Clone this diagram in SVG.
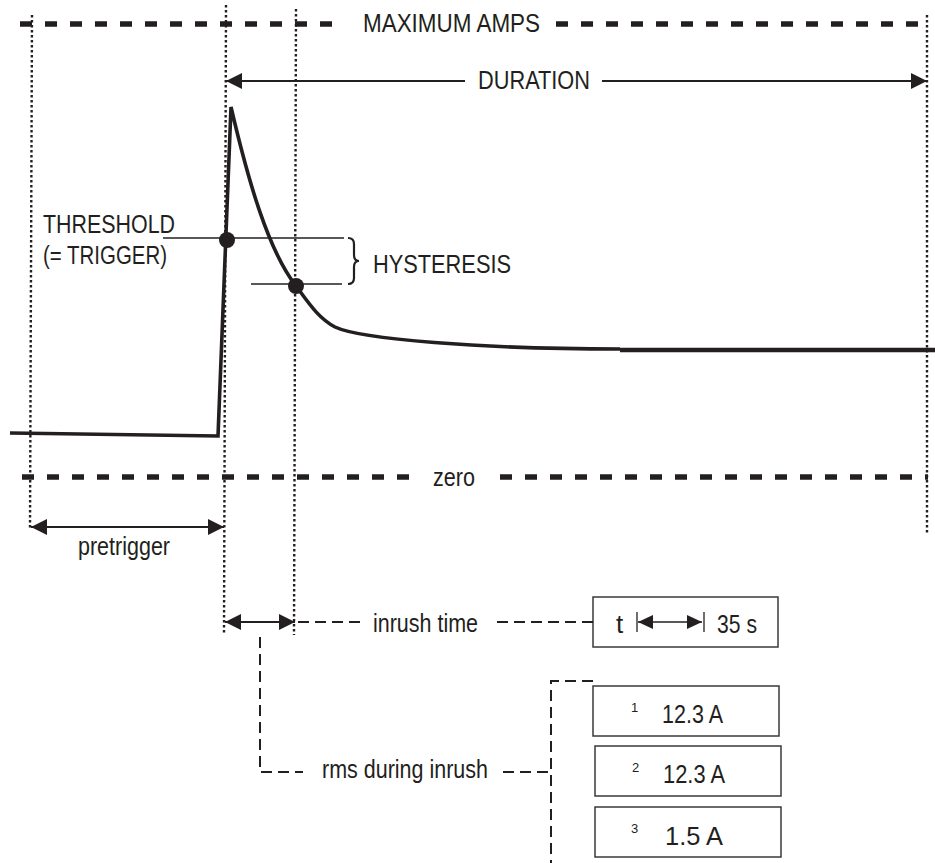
<svg xmlns="http://www.w3.org/2000/svg" width="935" height="863" viewBox="0 0 935 863">
<style>
text{font-family:"Liberation Sans",Arial,sans-serif;fill:#231f20;font-size:26px}
.sup{font-size:13px}
.dot{stroke:#231f20;stroke-width:2.4;stroke-dasharray:2.4 2.6;fill:none}
.thickdash{stroke:#231f20;stroke-width:5.5;stroke-dasharray:12 13;fill:none}
.conn{stroke:#231f20;stroke-width:2;stroke-dasharray:11 6;fill:none}
.arr{stroke:#231f20;stroke-width:2.2;fill:none}
.thin{stroke:#231f20;stroke-width:1.4;fill:none}
.wave{stroke:#231f20;stroke-width:3.6;fill:none;stroke-linejoin:miter}
.box{fill:#fff;stroke:#3a3a3a;stroke-width:1.5}
</style>
<defs>
<marker id="ah" markerUnits="userSpaceOnUse" markerWidth="17" markerHeight="16" refX="16" refY="8" orient="auto-start-reverse" viewBox="0 0 17 16">
<path d="M0,0 L16,8 L0,16 z" fill="#231f20"/>
</marker>
<marker id="ahs" markerUnits="userSpaceOnUse" markerWidth="16" markerHeight="14" refX="15" refY="7" orient="auto-start-reverse" viewBox="0 0 16 14">
<path d="M0,0 L15,7 L0,14 z" fill="#231f20"/>
</marker>
</defs>
<rect width="935" height="863" fill="#fff"/>

<g id="guides">
<line class="dot" x1="32" y1="15" x2="30" y2="530"/>
<line class="dot" x1="226" y1="5" x2="224" y2="635"/>
<line class="dot" x1="296" y1="9" x2="294" y2="635"/>
<line class="dot" x1="927" y1="15" x2="927" y2="535"/>
</g>

<g id="max-amps">
<line class="thickdash" x1="20" y1="24" x2="340" y2="24"/>
<line class="thickdash" x1="556" y1="24" x2="928" y2="24"/>
<text x="363" y="32" textLength="177" lengthAdjust="spacingAndGlyphs">MAXIMUM AMPS</text>
</g>

<g id="zero">
<line class="thickdash" x1="22" y1="477" x2="418" y2="477"/>
<line class="thickdash" x1="500" y1="477" x2="928" y2="477"/>
<text x="433" y="486" textLength="42" lengthAdjust="spacingAndGlyphs">zero</text>
</g>

<g id="waveform">
<path class="wave" d="M10,433 L218,436 L231,107 C248,180 268,250 296,286 C308,302 318,318 335,327 C360,339 480,349 620,349"/>
<line x1="620" y1="350" x2="935" y2="350" stroke="#231f20" stroke-width="4.6"/>
</g>

<g id="threshold">
<line class="thin" x1="163" y1="238" x2="344" y2="238"/>
<circle cx="227" cy="240" r="8" fill="#231f20"/>
<text x="43" y="233" textLength="132" lengthAdjust="spacingAndGlyphs">THRESHOLD</text>
<text x="43" y="264" textLength="124" lengthAdjust="spacingAndGlyphs">(= TRIGGER)</text>
</g>

<g id="hysteresis">
<line class="thin" x1="251" y1="284" x2="342" y2="284"/>
<circle cx="296" cy="286" r="8" fill="#231f20"/>
<path d="M348,238 q6,0 6,6 v11 q0,6 5,6 q-5,0 -5,6 v11 q0,6 -6,6" stroke="#231f20" stroke-width="2.2" fill="none"/>
<text x="373" y="273" textLength="138" lengthAdjust="spacingAndGlyphs">HYSTERESIS</text>
</g>

<g id="duration">
<line class="arr" x1="226" y1="81" x2="465" y2="81" marker-start="url(#ah)"/>
<line class="arr" x1="602" y1="81" x2="927" y2="81" marker-end="url(#ah)"/>
<text x="478" y="89" textLength="112" lengthAdjust="spacingAndGlyphs">DURATION</text>
</g>

<g id="pretrigger">
<line class="arr" x1="31" y1="527" x2="224" y2="527" stroke-width="2.6" marker-start="url(#ah)" marker-end="url(#ah)"/>
<text x="78" y="555" textLength="92" lengthAdjust="spacingAndGlyphs">pretrigger</text>
</g>

<g id="inrush-time">
<line class="arr" x1="225" y1="622" x2="295" y2="622" stroke-width="2.6" marker-start="url(#ah)" marker-end="url(#ah)"/>
<text x="373" y="632" textLength="105" lengthAdjust="spacingAndGlyphs">inrush time</text>
</g>

<g id="t-box">
<rect class="box" x="593" y="597" width="185" height="50"/>
<text x="616" y="633">t</text>
<line x1="637" y1="612" x2="637" y2="632" stroke="#231f20" stroke-width="1.3"/>
<line x1="704" y1="612" x2="704" y2="632" stroke="#231f20" stroke-width="1.3"/>
<line x1="638" y1="622" x2="702" y2="622" stroke="#231f20" stroke-width="1.5" marker-start="url(#ahs)" marker-end="url(#ahs)"/>
<text x="717" y="633" textLength="40" lengthAdjust="spacingAndGlyphs">35 s</text>
</g>

<g id="rms">
<text x="322" y="778" textLength="166" lengthAdjust="spacingAndGlyphs">rms during inrush</text>
</g>

<g id="box1">
<rect class="box" x="593" y="686" width="186" height="50"/>
<text class="sup" x="631" y="712">1</text>
<text x="662" y="723" textLength="61" lengthAdjust="spacingAndGlyphs">12.3 A</text>
</g>
<g id="box2">
<rect class="box" x="595" y="746" width="186" height="50"/>
<text class="sup" x="632" y="772">2</text>
<text x="663" y="783" textLength="62" lengthAdjust="spacingAndGlyphs">12.3 A</text>
</g>
<g id="box3">
<rect class="box" x="595" y="807" width="186" height="50"/>
<text class="sup" x="631" y="833">3</text>
<text x="665" y="845" textLength="58" lengthAdjust="spacingAndGlyphs">1.5 A</text>
</g>

<g id="connectors">
<line class="conn" x1="298" y1="622" x2="364" y2="622"/>
<line class="conn" x1="497" y1="622" x2="593" y2="622"/>
<polyline class="conn" points="260,637 260,772 303,772"/>
<line class="conn" x1="503" y1="772" x2="551" y2="772"/>
<polyline class="conn" points="593,681 551,681 551,863"/>
</g>
</svg>
